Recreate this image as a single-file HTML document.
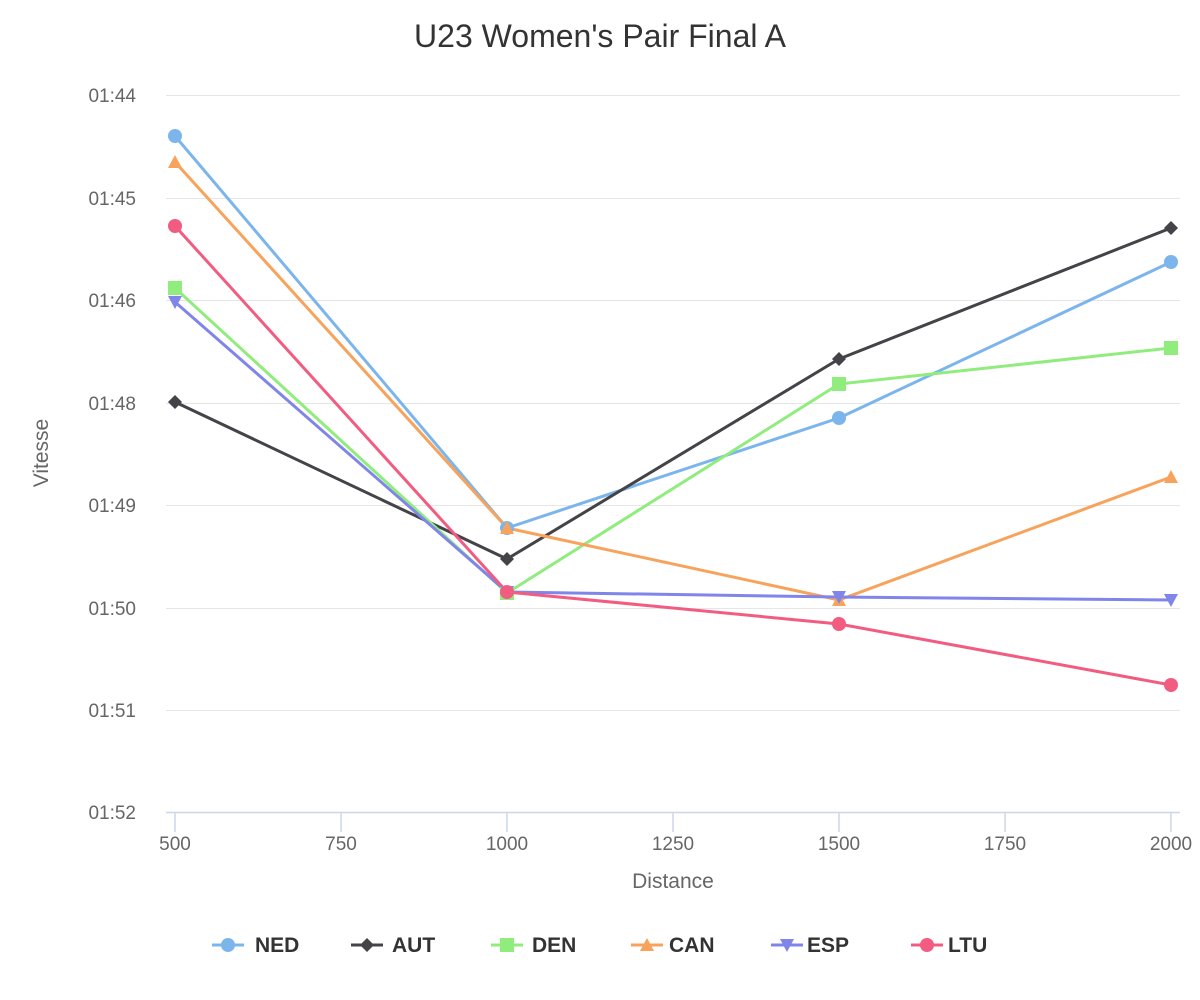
<!DOCTYPE html>
<html><head><meta charset="utf-8"><style>
html,body{margin:0;padding:0;background:#fff;}
svg{display:block;font-family:"Liberation Sans",sans-serif;}
</style></head><body>
<svg width="1200" height="1000" viewBox="0 0 1200 1000" xmlns="http://www.w3.org/2000/svg">
<text x="600" y="47" text-anchor="middle" font-size="32" fill="#333">U23 Women's Pair Final A</text>
<g stroke="#e6e6e6" stroke-width="1">
<line x1="166" x2="1180" y1="95.5" y2="95.5"/>
<line x1="166" x2="1180" y1="198.5" y2="198.5"/>
<line x1="166" x2="1180" y1="300.5" y2="300.5"/>
<line x1="166" x2="1180" y1="403.5" y2="403.5"/>
<line x1="166" x2="1180" y1="505.5" y2="505.5"/>
<line x1="166" x2="1180" y1="608.5" y2="608.5"/>
<line x1="166" x2="1180" y1="710.5" y2="710.5"/>
</g>
<line x1="166" x2="1180" y1="812.5" y2="812.5" stroke="#ccd6eb" stroke-width="1.5"/>
<g stroke="#ccd6eb" stroke-width="1.5">
<line x1="175" x2="175" y1="812" y2="832"/><line x1="341" x2="341" y1="812" y2="832"/>
<line x1="507" x2="507" y1="812" y2="832"/><line x1="673" x2="673" y1="812" y2="832"/>
<line x1="839" x2="839" y1="812" y2="832"/><line x1="1005" x2="1005" y1="812" y2="832"/>
<line x1="1171" x2="1171" y1="812" y2="832"/>
</g>
<g font-size="19" fill="#666" text-anchor="end">
<text x="136" y="102">01:44</text><text x="136" y="205">01:45</text><text x="136" y="307">01:46</text>
<text x="136" y="410">01:48</text><text x="136" y="512">01:49</text><text x="136" y="615">01:50</text>
<text x="136" y="717">01:51</text><text x="136" y="819">01:52</text>
</g>
<g font-size="19" fill="#666" text-anchor="middle">
<text x="175" y="850">500</text><text x="341" y="850">750</text><text x="507" y="850">1000</text>
<text x="673" y="850">1250</text><text x="839" y="850">1500</text><text x="1005" y="850">1750</text>
<text x="1171" y="850">2000</text>
</g>
<text x="673" y="888" text-anchor="middle" font-size="21" fill="#666">Distance</text>
<text transform="translate(48,453) rotate(-90)" text-anchor="middle" font-size="21" fill="#666">Vitesse</text>
<g fill="none" stroke-width="3" stroke-linejoin="round">
<polyline stroke="#7cb5ec" points="175,136 507,528 839,418 1171,262"/>
<polyline stroke="#434348" points="175,402 507,559 839,359 1171,228"/>
<polyline stroke="#90ed7d" points="175,288 507,593 839,384 1171,348"/>
<polyline stroke="#f7a35c" points="175,162 507,528 839,600 1171,477"/>
<polyline stroke="#8085e9" points="175,302 507,592 839,597 1171,600"/>
<polyline stroke="#f15c80" points="175,226 507,592 839,624 1171,685"/>
</g>
<g fill="#7cb5ec"><circle cx="175" cy="136" r="7"/><circle cx="507" cy="528" r="7"/><circle cx="839" cy="418" r="7"/><circle cx="1171" cy="262" r="7"/></g>
<g fill="#434348"><path d="M175 395l7 7-7 7-7-7z"/><path d="M507 552l7 7-7 7-7-7z"/><path d="M839 352l7 7-7 7-7-7z"/><path d="M1171 221l7 7-7 7-7-7z"/></g>
<g fill="#90ed7d"><rect x="168" y="281" width="14" height="14"/><rect x="500" y="586" width="14" height="14"/><rect x="832" y="377" width="14" height="14"/><rect x="1164" y="341" width="14" height="14"/></g>
<g fill="#f7a35c"><path d="M175 155l7 13h-14z"/><path d="M507 521l7 13h-14z"/><path d="M839 593l7 13h-14z"/><path d="M1171 470l7 13h-14z"/></g>
<g fill="#8085e9"><path d="M168 296h14l-7 13z"/><path d="M500 586h14l-7 13z"/><path d="M832 591h14l-7 13z"/><path d="M1164 594h14l-7 13z"/></g>
<g fill="#f15c80"><circle cx="175" cy="226" r="7"/><circle cx="507" cy="592" r="7"/><circle cx="839" cy="624" r="7"/><circle cx="1171" cy="685" r="7"/></g>
<g font-size="21" font-weight="bold" fill="#333" stroke-width="3">
<line x1="212" x2="244" y1="945" y2="945" stroke="#7cb5ec"/><circle cx="228" cy="945" r="7" fill="#7cb5ec"/><text x="255" y="952">NED</text>
<line x1="351" x2="383" y1="945" y2="945" stroke="#434348"/><path d="M367 938l7 7-7 7-7-7z" fill="#434348"/><text x="392" y="952">AUT</text>
<line x1="491" x2="523" y1="945" y2="945" stroke="#90ed7d"/><rect x="500" y="938" width="14" height="14" fill="#90ed7d"/><text x="532" y="952">DEN</text>
<line x1="631" x2="663" y1="945" y2="945" stroke="#f7a35c"/><path d="M647 938l7 13h-14z" fill="#f7a35c"/><text x="669" y="952">CAN</text>
<line x1="771" x2="803" y1="945" y2="945" stroke="#8085e9"/><path d="M780 939h14l-7 13z" fill="#8085e9"/><text x="807" y="952">ESP</text>
<line x1="911" x2="943" y1="945" y2="945" stroke="#f15c80"/><circle cx="927" cy="945" r="7" fill="#f15c80"/><text x="948" y="952">LTU</text>
</g>
</svg>
</body></html>
